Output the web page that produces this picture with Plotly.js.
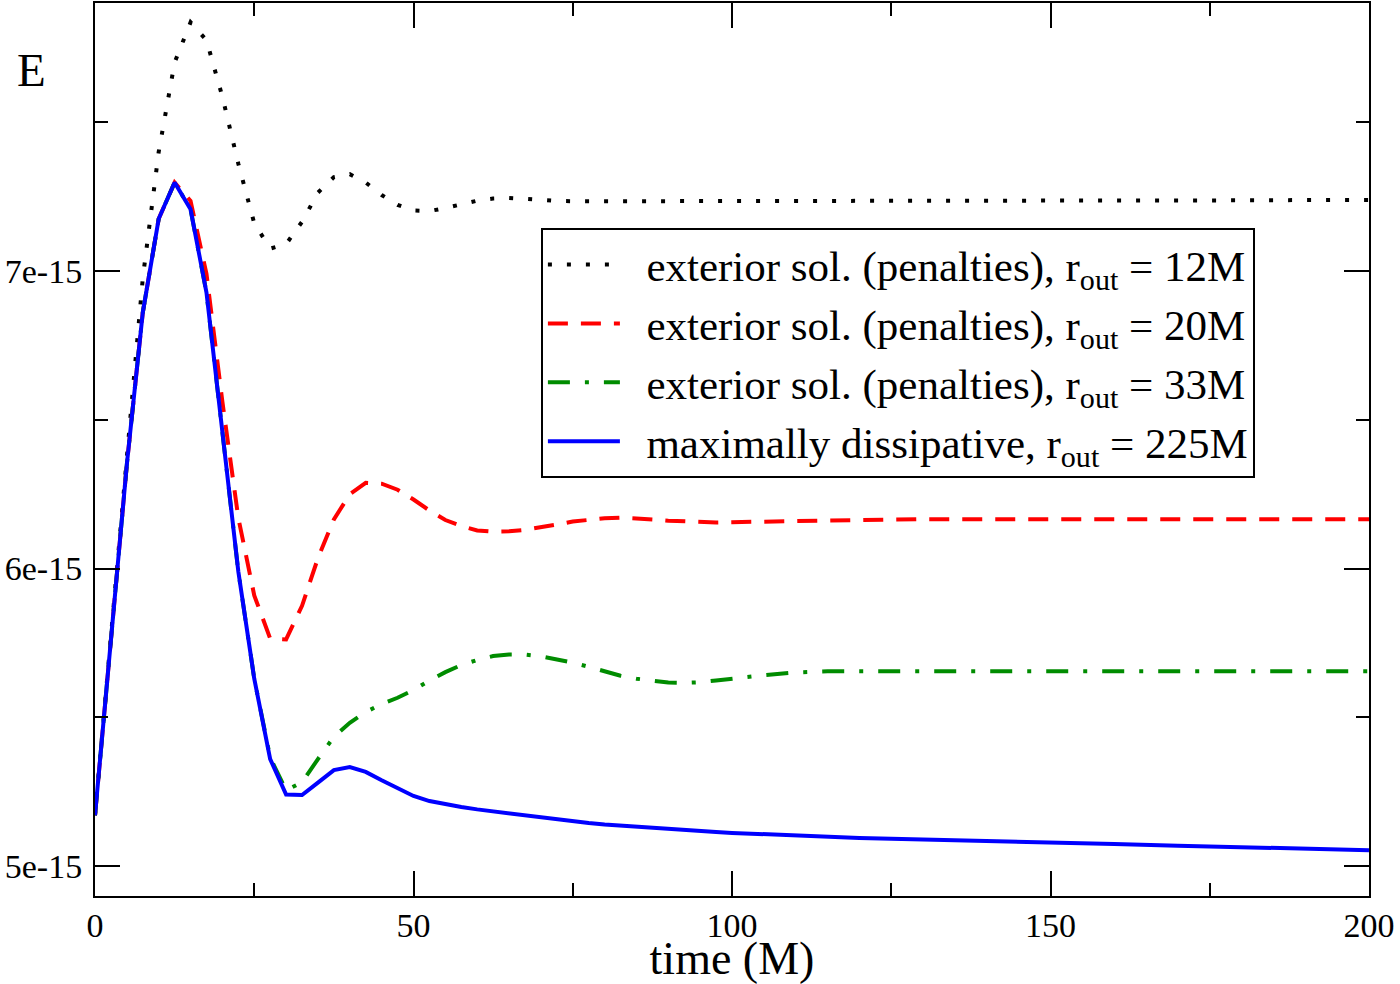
<!DOCTYPE html>
<html>
<head>
<meta charset="utf-8">
<script src="https://cdn.plot.ly/plotly-3.0.1.min.js"></script>
<style>
html,body{margin:0;padding:0;background:#fff;}
#chart{width:1400px;height:984px;}
</style>
</head>
<body>
<div id="chart"></div>
<script>
// time (M)
const time = [0,2.5,5,7.5,10,12.5,15,17.5,20,22.5,25,27.5,30,32.5,35,37.5,40,42.5,45,47.5,50,52.5,55,57.5,60,62.5,65,67.5,70,72.5,75,77.5,80,82.5,85,87.5,90,92.5,95,97.5,100,105,110,115,120,125,130,140,150,160,170,180,190,200];

// E values, in units of 1e-15
const E_r12 = [5.171,5.77,6.40,6.975,7.40,7.70,7.835,7.775,7.585,7.36,7.16,7.075,7.09,7.165,7.263,7.315,7.325,7.297,7.255,7.222,7.203,7.201,7.211,7.225,7.236,7.243,7.245,7.242,7.238,7.235,7.234,7.234,7.235,7.236,7.236,7.236,7.237,7.237,7.237,7.237,7.237,7.237,7.237,7.237,7.237,7.237,7.237,7.237,7.237,7.237,7.237,7.237,7.238,7.238];

const E_r20 = [5.171,5.76,6.35,6.86,7.175,7.297,7.235,6.99,6.56,6.17,5.91,5.765,5.762,5.875,6.035,6.165,6.25,6.288,6.285,6.265,6.232,6.195,6.163,6.143,6.128,6.124,6.125,6.13,6.138,6.148,6.158,6.165,6.169,6.171,6.169,6.165,6.161,6.158,6.156,6.155,6.156,6.158,6.161,6.163,6.165,6.165,6.166,6.166,6.166,6.166,6.166,6.166,6.166,6.166];

const E_r33 = [5.171,5.76,6.35,6.86,7.175,7.297,7.207,6.927,6.45,5.99,5.63,5.365,5.255,5.282,5.36,5.435,5.482,5.518,5.545,5.566,5.592,5.624,5.652,5.676,5.693,5.706,5.711,5.711,5.705,5.695,5.684,5.670,5.654,5.640,5.630,5.622,5.617,5.616,5.618,5.624,5.631,5.642,5.651,5.655,5.655,5.655,5.655,5.655,5.655,5.655,5.655,5.655,5.655,5.655];

const E_r225 = [5.171,5.76,6.35,6.86,7.175,7.297,7.207,6.927,6.45,5.99,5.63,5.36,5.241,5.239,5.281,5.323,5.333,5.317,5.289,5.261,5.236,5.219,5.208,5.199,5.191,5.184,5.177,5.170,5.163,5.156,5.150,5.145,5.140,5.136,5.132,5.128,5.124,5.121,5.118,5.115,5.112,5.107,5.103,5.099,5.095,5.092,5.090,5.086,5.081,5.075,5.069,5.064,5.059,5.054];

const seriesNames = [
  '\u00a0\u00a0exterior sol. (penalties), r<sub>out</sub> = 12M',
  '\u00a0\u00a0exterior sol. (penalties), r<sub>out</sub> = 20M',
  '\u00a0\u00a0exterior sol. (penalties), r<sub>out</sub> = 33M',
  '\u00a0\u00a0maximally dissipative, r<sub>out</sub> = 225M'
];

const yTickVals = [5, 6, 7];
const yTickText = ['5e-15', '6e-15', '7e-15'];
const xTickVals = [0, 50, 100, 150, 200];

const FONT = 'Liberation Serif, Times New Roman, serif';

const traces = [
  {x: time, y: E_r12, name: seriesNames[0], mode: 'lines', line: {color: '#000000', width: 4, dash: '4px,15px'}},
  {x: time, y: E_r20, name: seriesNames[1], mode: 'lines', line: {color: '#ff0000', width: 4, dash: '20px,13px'}},
  {x: time, y: E_r33, name: seriesNames[2], mode: 'lines', line: {color: '#008c00', width: 4, dash: '22px,15px,4px,15px'}},
  {x: time, y: E_r225, name: seriesNames[3], mode: 'lines', line: {color: '#0000ff', width: 4}}
];

const axisCommon = {
  showline: true, linecolor: '#000', linewidth: 2, mirror: 'ticks',
  ticks: 'inside', tickwidth: 2, tickcolor: '#000', ticklen: 25,
  showgrid: false, zeroline: false,
  tickfont: {family: FONT, size: 34, color: '#000'}
};

const layout = {
  width: 1400, height: 984,
  paper_bgcolor: '#fff', plot_bgcolor: '#fff',
  margin: {l: 95, r: 31, t: 3, b: 88},
  font: {family: FONT, color: '#000'},
  showlegend: true,
  xaxis: Object.assign({}, axisCommon, {
    range: [0, 200], tickmode: 'array', tickvals: xTickVals,
    minor: {ticks: 'inside', ticklen: 13, tickwidth: 2, tickcolor: '#000', dtick: 25, tick0: 0, showgrid: false},
    title: {text: 'time (M)', font: {family: FONT, size: 46, color: '#000'}, standoff: 0},
    ticklabelstandoff: -2,
    automargin: false
  }),
  yaxis: Object.assign({}, axisCommon, {
    range: [4.9, 7.9], tickmode: 'array', tickvals: yTickVals, ticktext: yTickText,
    minor: {ticks: 'inside', ticklen: 13, tickwidth: 2, tickcolor: '#000', dtick: 0.5, tick0: 0, showgrid: false},
    ticklabelstandoff: 4,
    automargin: false
  }),
  legend: {
    x: 0.35, y: 0.748, xanchor: 'left', yanchor: 'top',
    bgcolor: '#fff', bordercolor: '#000', borderwidth: 2,
    font: {family: FONT, size: 43, color: '#000'},
    itemwidth: 72, tracegroupgap: 0
  },
  annotations: [
    {text: 'E', xref: 'paper', yref: 'paper', x: -0.0495, y: 0.925, showarrow: false,
     xanchor: 'center', yanchor: 'middle', font: {family: FONT, size: 47, color: '#000'}}
  ]
};

Plotly.newPlot('chart', traces, layout, {displayModeBar: false, staticPlot: true});
</script>
</body>
</html>
